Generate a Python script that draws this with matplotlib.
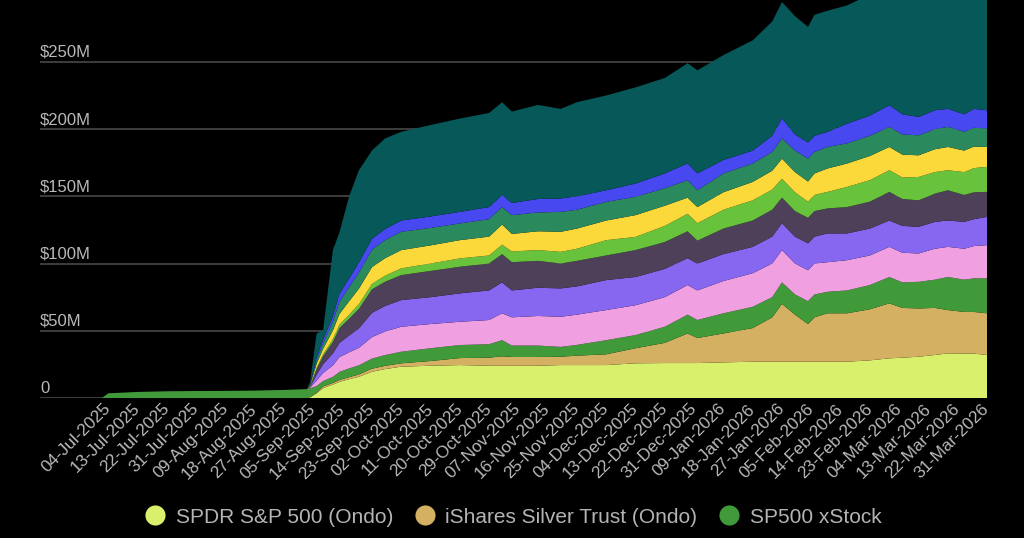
import matplotlib
matplotlib.use('Agg')
import matplotlib.pyplot as plt
import matplotlib.transforms as mtransforms
from matplotlib.lines import Line2D
import pandas as pd

plt.rcParams['font.family'] = ['Liberation Sans', 'DejaVu Sans']

# ---------------- data (values in $M) ----------------
dates_phase1 = ['2025-07-02', '2025-07-04', '2025-07-13', '2025-07-22', '2025-07-31',
                '2025-08-09', '2025-08-18', '2025-08-27', '2025-09-03']
dates_phase2 = ['2025-09-04', '2025-09-06', '2025-09-08', '2025-09-11', '2025-09-13',
                '2025-09-16', '2025-09-19', '2025-09-23', '2025-09-27', '2025-10-02',
                '2025-10-11', '2025-10-20', '2025-10-29', '2025-11-02', '2025-11-05',
                '2025-11-13', '2025-11-20', '2025-11-25', '2025-12-04', '2025-12-13',
                '2025-12-22', '2025-12-29', '2026-01-01', '2026-01-09', '2026-01-18',
                '2026-01-24', '2026-01-27', '2026-01-31', '2026-02-04', '2026-02-06',
                '2026-02-10', '2026-02-16', '2026-02-23', '2026-03-01', '2026-03-05',
                '2026-03-10', '2026-03-15', '2026-03-19', '2026-03-24', '2026-03-27',
                '2026-03-31']
dates = dates_phase1 + dates_phase2
zeros_phase1 = [0, 0, 0, 0, 0, 0, 0, 0, 0]

spdr_sp500_ondo = zeros_phase1 + [0.5, 3.5, 7.4, 10, 12, 14, 15.8, 19.5, 21.5, 23.3, 24, 24.5, 24, 24, 24,
                                  24, 24.5, 24.5, 24.5, 25.8, 26, 26, 26, 26.5, 27, 27, 27, 27, 27, 27,
                                  27, 27, 28, 29.5, 30, 30.7, 32, 33.2, 33, 33, 32]
ishares_silver_ondo = zeros_phase1 + [0.1, 0.4, 1.2, 1.2, 1.4, 1.5, 1.7, 2.3, 2.4, 2.5, 3.5, 5.2, 6, 7, 6.5,
                                      6.5, 6.2, 7, 8, 11.2, 15, 22, 18.6, 21.5, 25, 33, 43, 35, 28, 33,
                                      36, 36, 38, 40.9, 37, 35.9, 35, 32.2, 31, 31, 31]
sp500_xstock = [0, 3.5, 4.5, 5.0, 5.2, 5.3, 5.5, 6.0, 6.6] + \
               [6.6, 5.0, 4.0, 4.5, 6.0, 6.5, 6.8, 7.5, 8.0, 8.6, 9.5, 9.7, 10, 12, 8.5,
                8.5, 7.3, 8, 10.5, 9.8, 12, 14, 13.4, 15, 15.8, 15, 16, 15, 17, 17,
                16, 17, 18, 19.6, 19, 19.8, 21, 24.6, 24, 25, 26]
series_4 = zeros_phase1 + [0.5, 4.0, 6.0, 8.5, 11.0, 12.0, 13.0, 16.0, 17.5, 18.6, 18, 17.3, 18, 20, 21,
                           22, 22.4, 22.5, 22.4, 22.2, 22, 22, 22, 24, 25, 25, 24, 23, 23, 23,
                           22, 22.5, 22, 22.4, 22, 21.1, 23, 22.4, 23, 24, 24.7]
series_5 = zeros_phase1 + [0.5, 4.5, 6.5, 9.0, 10.5, 12.5, 14.5, 18.0, 19.0, 19.8, 20, 21.1, 22, 23, 20,
                           21, 21.1, 21, 22.3, 21, 21, 20, 20, 20, 19.6, 20, 20, 20, 20, 20,
                           21.4, 19.9, 20, 19.6, 20, 19.8, 20, 19.6, 20, 20, 21]
series_6 = zeros_phase1 + [0.5, 4.0, 6.0, 8.5, 11.0, 12.5, 14.5, 17.5, 18.0, 18.6, 19.5, 19.8, 20, 21, 21,
                           20, 18.5, 19, 18.3, 20, 20, 20, 17, 19, 19.6, 20, 19, 19, 19, 19,
                           18.6, 19.6, 20, 21.3, 20, 19.7, 21, 22.5, 20, 20, 18.6]
series_7 = zeros_phase1 + [0.2, 1.0, 1.5, 2.0, 2.5, 3.0, 3.5, 4.0, 4.5, 5.0, 5.5, 6.2, 6, 7, 8,
                           8, 8.7, 9, 11.4, 9.8, 12, 13, 13, 14, 15, 15, 14, 14, 12, 12,
                           12.3, 15, 16, 16.1, 16, 17.4, 16, 14.9, 17, 18, 18.6]
series_8 = zeros_phase1 + [0.4, 3.0, 4.0, 6.5, 8.0, 10.0, 11.5, 12.5, 13.0, 13.6, 13.5, 13.6, 14, 15, 13,
                           14, 14.9, 15, 14.6, 16.2, 15, 12, 12, 13, 13.7, 14, 15, 15, 15, 16,
                           17.4, 17.4, 18, 17.3, 17, 16.1, 17, 17.3, 16, 16, 14.8]
series_9 = zeros_phase1 + [0.4, 3.0, 4.0, 6.5, 9.0, 10.5, 12.0, 13.0, 13.5, 13.6, 13, 12.4, 13, 13, 14,
                           14, 14.8, 14, 13.9, 13.6, 13, 13, 12.5, 14, 13.7, 14, 15, 16, 17, 16,
                           16, 15, 15, 14.9, 15, 14.9, 15, 14.9, 14, 14, 13.7]
series_10 = zeros_phase1 + [0.3, 2.0, 2.8, 4.0, 6.0, 6.5, 7.5, 8.0, 8.2, 8.4, 8.5, 8.6, 9, 9, 9,
                            10, 10, 10, 8.6, 9.9, 11, 12.5, 12.5, 10, 9.6, 12, 15, 12, 12, 12,
                            11.2, 14.6, 15, 16.1, 15, 13.6, 14, 13.4, 13, 14, 13.6]
series_11 = zeros_phase1 + [2.0, 17.6, 7.1, 49.3, 45.6, 61, 68.6, 65.7, 67.4, 66, 68, 69.4, 70, 69, 68,
                            70, 66.6, 70, 70.5, 71.5, 71, 74.5, 76.7, 78, 82, 85, 86.5, 88, 86, 90,
                            90.1, 88, 90, 92.3, 94, 96, 94, 93, 94, 93, 86]

series_names = ['SPDR S&P 500 (Ondo)', 'iShares Silver Trust (Ondo)', 'SP500 xStock',
                'Series 4', 'Series 5', 'Series 6', 'Series 7', 'Series 8', 'Series 9',
                'Series 10', 'Series 11']
series_values = [spdr_sp500_ondo, ishares_silver_ondo, sp500_xstock, series_4, series_5,
                 series_6, series_7, series_8, series_9, series_10, series_11]
colors = ['#d8f06c', '#d4b062', '#409a3a', '#f0a0e0', '#8766f0', '#4e4058',
          '#68c23c', '#fcd93a', '#2a8a5e', '#4848f0', '#075858']

y_ticks = [0, 50, 100, 150, 200, 250]
y_tick_labels = ['0', '$50M', '$100M', '$150M', '$200M', '$250M']
tick_dates = pd.date_range('2025-07-04', '2026-03-31', freq='9D')

# ---------------- figure ----------------
fig = plt.figure(figsize=(10.24, 5.38), dpi=100, facecolor='black')
ax = fig.add_axes([40 / 1024, 1 - 398 / 538, (987 - 40) / 1024, 398 / 538])
ax.set_facecolor('black')

x = pd.to_datetime(dates)
ax.stackplot(x, *series_values, colors=colors, linewidth=0, zorder=2)

ax.set_xlim(pd.Timestamp('2025-06-13'), pd.Timestamp('2026-03-31'))
ax.set_ylim(0, 296)

for v in y_ticks:
    ax.axhline(v, color='#4d4d4d', lw=1.1, zorder=1)

trans = mtransforms.offset_copy(
    mtransforms.blended_transform_factory(ax.transAxes, ax.transData),
    fig=fig, x=0, y=2, units='dots')
for v, lab in zip(y_ticks, y_tick_labels):
    ax.text(0.0, v, lab, transform=trans, ha='left', va='bottom',
            color='#b9b9b9', fontsize=12)
ax.set_yticks([])

ax.set_xticks(tick_dates)
ax.set_xticklabels([d.strftime('%d-%b-%Y') for d in tick_dates],
                   rotation=45, ha='right', va='center', rotation_mode='anchor',
                   color='#b9b9b9', fontsize=12.3)
ax.tick_params(axis='x', length=0, pad=6)
for s in ax.spines.values():
    s.set_visible(False)

handles = [Line2D([], [], marker='o', ls='', markersize=14.5,
                  markerfacecolor=c, markeredgewidth=0) for c in colors[:3]]
fig.legend(handles, series_names[:3], loc='center', bbox_to_anchor=(0.501, 0.039),
           ncol=3, frameon=False, fontsize=15, labelcolor='#b4b4b4',
           handlelength=1.0, handletextpad=0.5, columnspacing=1.0)

fig.savefig('out.png', dpi=100, facecolor='black')
